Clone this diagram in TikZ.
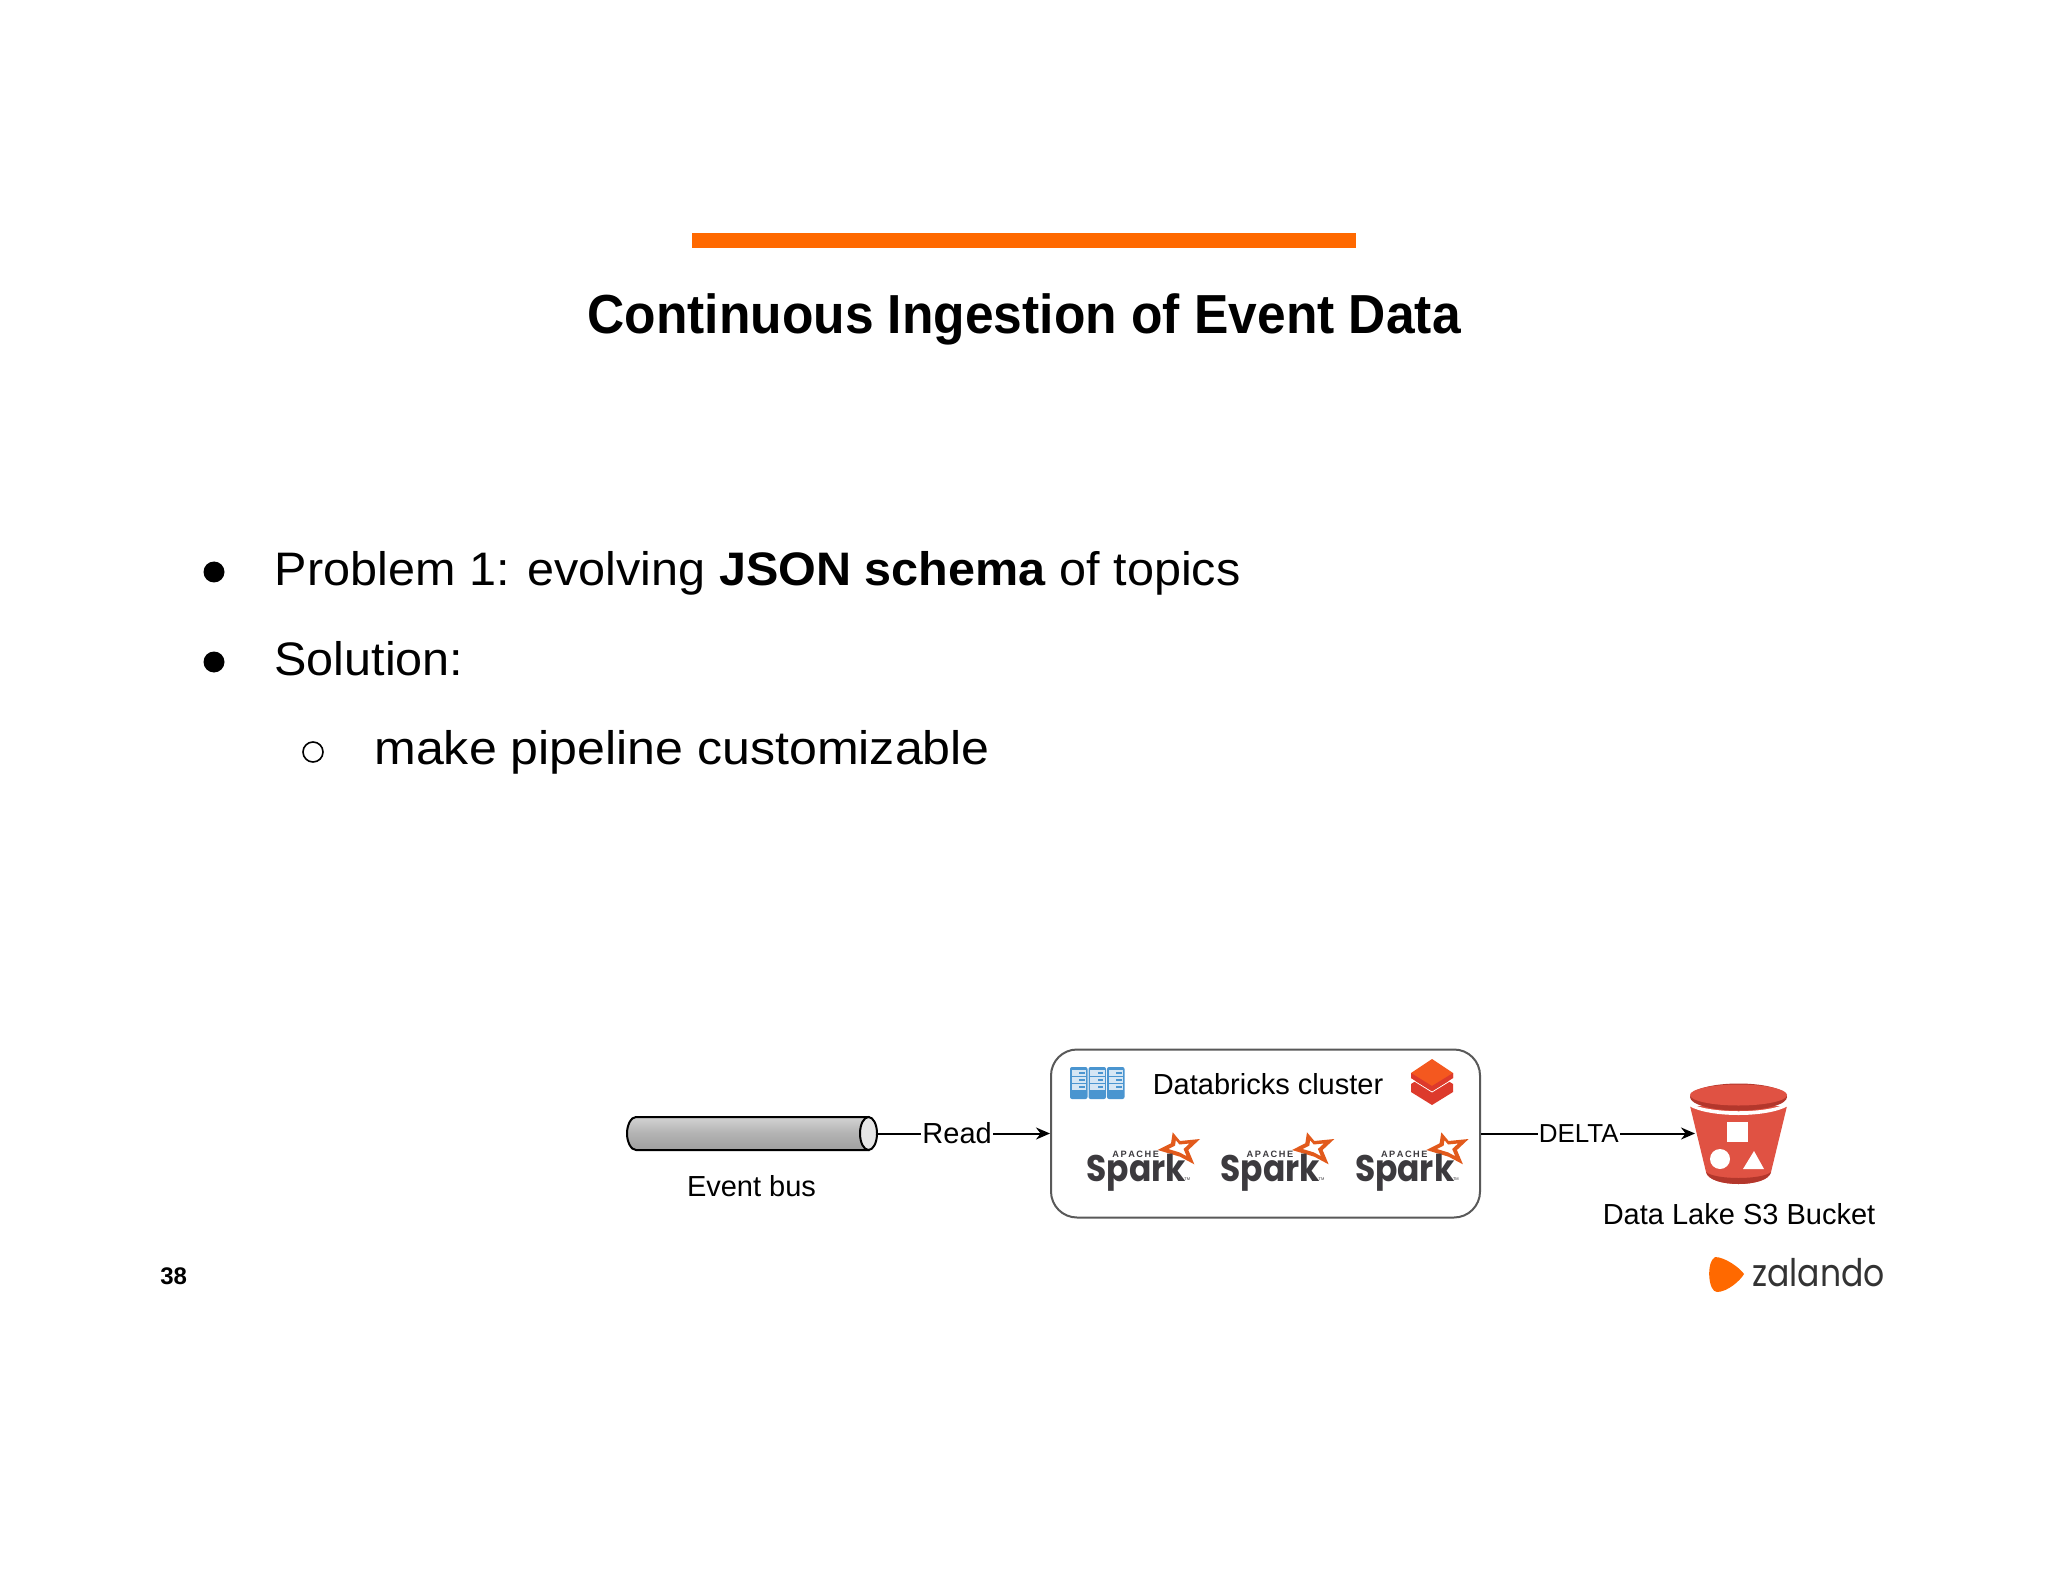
\documentclass[tikz,border=0pt]{standalone}
\usepackage{fontspec}
\setmainfont{Liberation Sans}
\newfontfamily\bodyfont[FakeStretch=1.033]{Liberation Sans}
\newfontfamily\subfont[FakeStretch=1.066]{Liberation Sans}
\newfontfamily\titlefont[FakeStretch=0.937]{Liberation Sans}
\newfontfamily\sparkfont[FakeStretch=0.89]{Poppins}
\newfontfamily\zalfont[FakeStretch=0.87]{Poppins}
\usetikzlibrary{arrows.meta,calc,shapes.geometric}
\definecolor{zorange}{HTML}{FF6900}
\definecolor{sparkgrey}{HTML}{3C3A3E}
\definecolor{sparkorange}{HTML}{E25A1C}
\definecolor{srvblue}{HTML}{4A95D0}
\definecolor{srvlight}{HTML}{D5E6F4}
\definecolor{dbtop}{HTML}{F4581F}
\definecolor{dblow}{HTML}{DD3A2C}
\definecolor{bucket}{HTML}{E05243}
\definecolor{bucketdark}{HTML}{B3372C}
\tikzset{
  x=0.5pt,y=-0.5pt,
  lbl/.style={inner sep=0pt,font=\fontsize{14.5}{17}\selectfont,text=black},
  body/.style={inner sep=0pt,anchor=base west,font=\bodyfont\fontsize{23.5}{28}\selectfont,text=black},
  link/.style={draw=black,line width=1pt,-{Stealth[length=7pt,width=6pt]}},
  pics/sparklogo/.style={code={
    \fill[sparkorange,even odd rule]
      (8.7,-48.7) -- (16,-40) -- (36,-42) -- (24.3,-31) -- (30.3,-16.7) -- (16,-24.3) -- (-6.3,-31) -- (7,-37.7) -- cycle
      (11.8,-40.8) -- (15.5,-36.5) -- (25.5,-37.5) -- (19.6,-32) -- (22.6,-24.8) -- (15.5,-28.6) -- (4.3,-32) -- (11,-35.4) -- cycle;
    \node[inner sep=0pt,anchor=base west,text=sparkgrey,font=\sparkfont\bfseries\fontsize{18.5}{20}\selectfont] at (-78,0) {Spark};
    \node[inner sep=0pt,anchor=base west,text=sparkgrey,font=\bfseries\fontsize{4.6}{5}\selectfont] at (-52,-24) {A\,P\,A\,C\,H\,E};
    \node[inner sep=0pt,anchor=base west,text=sparkgrey,font=\fontsize{2}{2}\selectfont] at (20,-1) {TM};
  }}
}
\begin{document}
\begin{tikzpicture}
\useasboundingbox (0,0) rectangle (2048,1582);
\fill[white] (0,0) rectangle (2048,1582);
% header
\fill[zorange] (692,233) rectangle (1356,248);
\node[inner sep=0pt,anchor=base,font=\titlefont\bfseries\fontsize{27.5}{33}\selectfont] (title) at (1024,334) {Continuous Ingestion of Event Data};
% bullets
\fill[black] (214,572) circle [radius=10.5];
\node[body] (b1) at (274.5,585) {Problem 1: evolving \textbf{JSON schema} of topics};
\fill[black] (214,662) circle [radius=10.5];
\node[body] (b2) at (274,675) {Solution:};
\draw[black,line width=0.8pt] (313,752) circle [radius=10];
\node[body,font=\subfont\fontsize{23.5}{28}\selectfont] (b3) at (374,764) {make pipeline customizable};
% page number
\node[inner sep=0pt,anchor=base west,font=\bfseries\fontsize{12}{14}\selectfont] (pg) at (160,1284) {38};
% event bus
\path[top color=gray!35,bottom color=gray!75,middle color=gray!60,draw=black,line width=1pt]
  (868.5,1117) -- (636,1117) .. controls (631,1117) and (627,1125) .. (627,1133.5) .. controls (627,1142) and (631,1150) .. (636,1150) -- (868.5,1150) -- cycle;
\node[draw=black,fill=gray!20,line width=1pt,ellipse,minimum width=8.5pt,minimum height=16.5pt,inner sep=0pt] (bus) at (868.5,1133.5) {};
\node[lbl] (buslbl) at (751.5,1186) {Event bus};
% cluster
\node[draw=black!65,fill=white,rounded corners=13pt,line width=1pt,minimum width=214.5pt,minimum height=84pt,inner sep=0pt] (cluster) at (1265.5,1133.5) {};
\node[lbl] (dbtext) at (1268,1084) {Databricks cluster};
% server icon
\foreach \x in {1070,1088.5,1107} {
  \fill[srvblue,rounded corners=1pt] (\x,1067) rectangle ++(17.5,32);
  \foreach \y in {1070,1077,1084} {
    \fill[srvlight] (\x+1.5,\y) rectangle ++(14.5,5.5);
    \fill[srvblue] (\x+9,\y+1.5) rectangle ++(5.5,2);
  }
}
% databricks icon
\fill[dblow] (1411,1084) -- (1432,1071) -- (1453,1084) -- (1453,1092) -- (1432,1105) -- (1411,1092) -- cycle;
\draw[white,line width=0.4pt] (1411,1079) -- (1432,1092) -- (1453,1079);
\fill[dbtop] (1411,1073) -- (1432,1059) -- (1453,1073) -- (1453,1078) -- (1432,1091) -- (1411,1078) -- cycle;
\fill[dblow] (1411,1073) -- (1432,1086) -- (1453,1073) -- (1453,1078) -- (1432,1091) -- (1411,1078) -- cycle;
% spark logos
\pic at (1164,1181) {sparklogo};
\pic at (1298.3,1181) {sparklogo};
\pic at (1432.6,1181) {sparklogo};
% bucket
\fill[bucket] (1690,1106) -- (1787,1106) -- (1771,1172) .. controls (1768,1188) and (1709,1188) .. (1706,1172) -- cycle;
\fill[bucketdark] (1706,1172) .. controls (1715,1180) and (1762,1180) .. (1771,1172) .. controls (1768,1188) and (1709,1188) .. (1706,1172) -- cycle;
\fill[white] (1689,1103) .. controls (1710,1114) and (1767,1114) .. (1788,1103) -- (1788,1106) .. controls (1767,1118) and (1710,1118) .. (1689,1106) -- cycle;
\fill[bucketdark] (1738.5,1097) ellipse [x radius=48.5,y radius=13.5];
\fill[bucket] (1738.5,1095) ellipse [x radius=48.5,y radius=10.5];
\coordinate (bucketin) at (1695,1134);
\fill[white] (1727,1122) rectangle (1748,1142);
\fill[white] (1720,1159) circle [radius=10];
\fill[white] (1743,1169) -- (1764,1169) -- (1754,1151) -- cycle;
\node[lbl] (buck) at (1739,1214) {Data Lake S3 Bucket};
% connectors
\draw[link] (bus.east) -- (cluster.west |- bus.east) node[pos=0.46,fill=white,inner sep=0.5pt,font=\fontsize{14.5}{17}\selectfont] (read) {Read};
\draw[link] (cluster.east) -- (bucketin |- cluster.east) node[pos=0.457,fill=white,inner sep=0.5pt,font=\fontsize{13}{16}\selectfont] (delta) {DELTA};
% zalando
\fill[zorange] (1715,1257) .. controls (1725,1257) and (1740,1268) .. (1744,1274) .. controls (1740,1281) and (1727,1292) .. (1717,1292) .. controls (1708,1292) and (1706,1262) .. (1715,1257) -- cycle;
\node[inner sep=0pt,anchor=base west,text=black!80,font=\zalfont\fontsize{19}{22}\selectfont] (zal) at (1752,1286) {zalando};
\end{tikzpicture}
\end{document}
